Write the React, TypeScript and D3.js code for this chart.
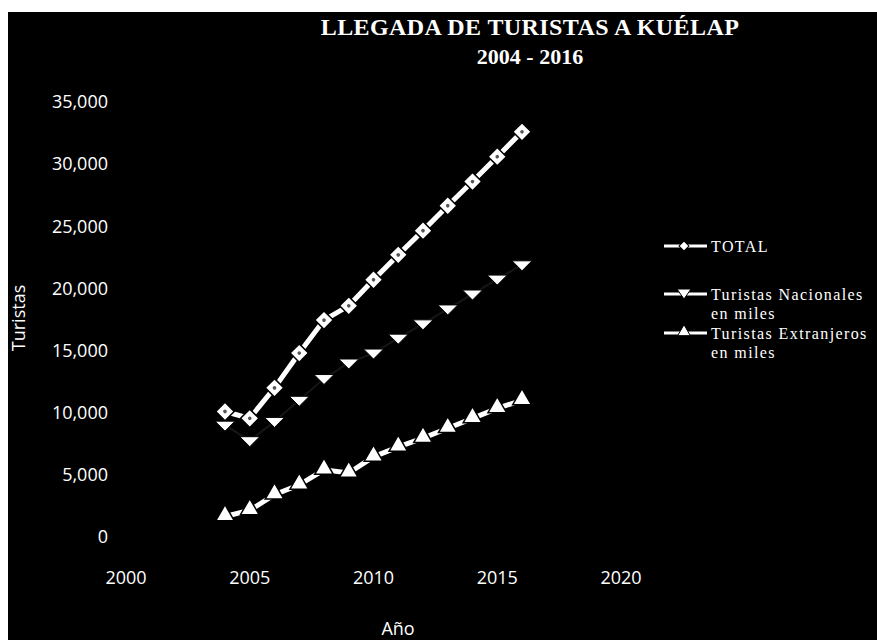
import { useRef, useEffect } from "react";
import * as d3 from "d3";

const years = [2004, 2005, 2006, 2007, 2008, 2009, 2010, 2011, 2012, 2013, 2014, 2015, 2016];
const total = [10100, 9550, 12000, 14800, 17450, 18600, 20700, 22700, 24650, 26650, 28600, 30600, 32600];
const nacionales = [9000, 7750, 9300, 11000, 12750, 14000, 14800, 16000, 17150, 18350, 19550, 20750, 21900];
const extranjeros = [1650, 2150, 3400, 4200, 5400, 5150, 6450, 7250, 7950, 8750, 9550, 10350, 11000];
const xTicks = [2000, 2005, 2010, 2015, 2020];
const yTicks = [0, 5000, 10000, 15000, 20000, 25000, 30000, 35000];

type Pt = { year: number; value: number };

export default function App() {
  const svgRef = useRef<SVGSVGElement>(null);

  useEffect(() => {
    document.body.style.margin = "0";
    document.body.style.overflow = "hidden";

    const width = 877;
    const height = 640;
    const svg = d3.select(svgRef.current);
    svg.selectAll("*").remove();
    svg.attr("width", width).attr("height", height).style("display", "block");

    // fondo: borde blanco arriba/izquierda, resto negro
    svg.append("rect").attr("width", width).attr("height", height).attr("fill", "#fff");
    svg.append("rect").attr("x", 8).attr("y", 12).attr("width", width - 8).attr("height", height - 12).attr("fill", "#000");

    const x = d3.scaleLinear().domain([2000, 2020]).range([126, 621]);
    const y = d3.scaleLinear().domain([0, 35000]).range([537, 102]);

    const axisFont = "'Open Sans', sans-serif";
    const serif = "'Liberation Serif', 'Times New Roman', serif";

    // Ejes (solo etiquetas)
    svg.append("g")
      .selectAll("text")
      .data(yTicks)
      .join("text")
      .attr("x", 108)
      .attr("y", (d) => y(d))
      .attr("dy", "0.35em")
      .attr("text-anchor", "end")
      .attr("fill", "#fff")
      .attr("font-family", axisFont)
      .attr("font-size", 18)
      .text((d) => d3.format(",")(d));

    svg.append("g")
      .selectAll("text")
      .data(xTicks)
      .join("text")
      .attr("x", (d) => x(d))
      .attr("y", 584)
      .attr("text-anchor", "middle")
      .attr("fill", "#fff")
      .attr("font-family", axisFont)
      .attr("font-size", 18)
      .text((d) => String(d));

    svg.append("text")
      .attr("transform", "translate(25,318) rotate(-90)")
      .attr("text-anchor", "middle")
      .attr("fill", "#fff")
      .attr("font-family", axisFont)
      .attr("font-size", 18)
      .text("Turistas");

    svg.append("text")
      .attr("x", 398)
      .attr("y", 635)
      .attr("text-anchor", "middle")
      .attr("fill", "#fff")
      .attr("font-family", axisFont)
      .attr("font-size", 18)
      .text("Año");

    // Título
    svg.append("text")
      .attr("x", 530)
      .attr("y", 35)
      .attr("text-anchor", "middle")
      .attr("fill", "#fff")
      .attr("font-family", serif)
      .attr("font-weight", "bold")
      .attr("font-size", 24)
      .attr("letter-spacing", 0.4)
      .text("LLEGADA DE TURISTAS A KUÉLAP");
    svg.append("text")
      .attr("x", 530)
      .attr("y", 64)
      .attr("text-anchor", "middle")
      .attr("fill", "#fff")
      .attr("font-family", serif)
      .attr("font-weight", "bold")
      .attr("font-size", 22)
      .text("2004 - 2016");

    const toPts = (vals: number[]): Pt[] => years.map((yr, i) => ({ year: yr, value: vals[i] }));
    const line = d3.line<Pt>().x((d) => x(d.year)).y((d) => y(d.value));

    const diamond = d3.symbol(d3.symbolSquare, 170)();
    const triUp = d3.symbol(d3.symbolTriangle, 150)();

    // Línea de nacionales (casi invisible en el escaneo)
    svg.append("path")
      .datum(toPts(nacionales))
      .attr("d", line)
      .attr("fill", "none")
      .attr("stroke", "#161616")
      .attr("stroke-width", 2);

    // TOTAL
    svg.append("path")
      .datum(toPts(total))
      .attr("d", line)
      .attr("fill", "none")
      .attr("stroke", "#fff")
      .attr("stroke-width", 5);

    // Extranjeros
    svg.append("path")
      .datum(toPts(extranjeros))
      .attr("d", line)
      .attr("fill", "none")
      .attr("stroke", "#fff")
      .attr("stroke-width", 5);

    const drawDiamonds = (g: d3.Selection<SVGGElement, unknown, null, undefined>, pts: Pt[]) => {
      const m = g.selectAll("g").data(pts).join("g")
        .attr("transform", (d) => `translate(${x(d.year)},${y(d.value)}) rotate(45)`);
      m.append("path").attr("d", diamond).attr("fill", "#fff").attr("stroke", "#000").attr("stroke-width", 1.5);
      m.append("circle").attr("r", 1.8).attr("fill", "#555");
    };

    drawDiamonds(svg.append("g"), toPts(total));

    svg.append("g")
      .selectAll("path")
      .data(toPts(extranjeros))
      .join("path")
      .attr("transform", (d) => `translate(${x(d.year)},${y(d.value) - 1})`)
      .attr("d", triUp)
      .attr("fill", "#fff")
      .attr("stroke", "#000")
      .attr("stroke-width", 1.5);

    // Nacionales: triángulo invertido achatado
    const flatDown = "M-10,-4L10,-4L0,6Z";
    svg.append("g")
      .selectAll("path")
      .data(toPts(nacionales))
      .join("path")
      .attr("transform", (d) => `translate(${x(d.year)},${y(d.value)})`)
      .attr("d", flatDown)
      .attr("fill", "#fff")
      .attr("stroke", "#000")
      .attr("stroke-width", 1);

    // Leyenda
    const legend = svg.append("g").attr("font-family", serif).attr("font-size", 16).attr("fill", "#fff");
    const rows = [
      { y: 246, lines: ["TOTAL"], kind: "diamond" },
      { y: 294, lines: ["Turistas Nacionales", "en miles"], kind: "down" },
      { y: 333, lines: ["Turistas Extranjeros", "en miles"], kind: "up" },
    ];
    rows.forEach((r) => {
      const g = legend.append("g").attr("transform", `translate(0,${r.y})`);
      g.append("line").attr("x1", 664).attr("x2", 707).attr("stroke", "#fff").attr("stroke-width", 3);
      if (r.kind === "diamond") {
        g.append("path").attr("transform", "translate(684,0) rotate(45)").attr("d", d3.symbol(d3.symbolSquare, 50)())
          .attr("fill", "#fff").attr("stroke", "#000").attr("stroke-width", 1);
      } else if (r.kind === "down") {
        g.append("path").attr("transform", "translate(684,0)").attr("d", "M-7,-5L7,-5L0,5Z")
          .attr("fill", "#fff").attr("stroke", "#000").attr("stroke-width", 1);
      } else {
        g.append("path").attr("transform", "translate(684,-1)").attr("d", d3.symbol(d3.symbolTriangle, 70)())
          .attr("fill", "#fff").attr("stroke", "#000").attr("stroke-width", 1);
      }
      r.lines.forEach((t, i) => {
        g.append("text")
          .attr("x", 711)
          .attr("y", i * 19)
          .attr("dy", "0.35em")
          .attr("letter-spacing", 1.4)
          .text(t);
      });
    });
  }, []);

  return <svg ref={svgRef}></svg>;
}
